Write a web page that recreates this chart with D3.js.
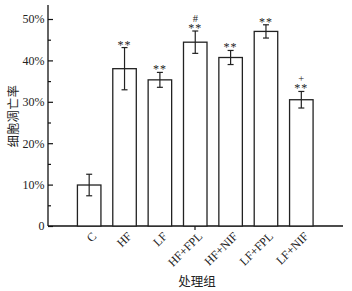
<!DOCTYPE html>
<html><head><meta charset="utf-8">
<script src="https://cdn.jsdelivr.net/npm/d3@7"></script>
<style>body{margin:0;background:#fff}svg{display:block}</style>
</head><body>
<svg id="c" width="352" height="291"></svg>
<script>
const categories = ["C","HF","LF","HF+FPL","HF+NIF","LF+FPL","LF+NIF"];
const values = [9.9, 38.0, 35.3, 44.4, 40.7, 47.0, 30.5];
const errors = [2.6, 5.1, 1.8, 2.7, 1.7, 1.6, 2.0];
const marks = ["", "**", "**", "**", "**", "**", "**"];
const marks2 = ["", "", "", "#", "", "", "+"];
const yTicks = [0,10,20,30,40,50];
const yMinor = [5,15,25,35,45];
const yTitle = "细胞凋亡率";
const xTitle = "处理组";

const svg = d3.select("#c");
const serif = "'Liberation Serif','DejaVu Serif',serif";
const cjk = "'Noto Sans CJK SC',sans-serif";
const y = d3.scaleLinear().domain([0,50]).range([226,19]);
const x = d3.scaleBand().domain(categories).range([71.5,319]).paddingInner(0.335).paddingOuter(0.1675);
const axX = 48;

// y axis
const yAxis = d3.axisRight(y).tickValues(yTicks).tickSize(5).tickFormat(d => d===0 ? "0" : d+"%");
const ga = svg.append("g").attr("transform",`translate(${axX},0)`).call(yAxis);
ga.select(".domain").remove();
ga.selectAll("line").attr("stroke","#111").attr("stroke-width",1.2);
ga.selectAll("text").attr("x",-3.5).attr("text-anchor","end").attr("font-family",serif).attr("font-size",12).attr("fill","#222");
const gm = svg.append("g").attr("transform",`translate(${axX},0)`).call(d3.axisRight(y).tickValues(yMinor).tickSize(3).tickFormat(""));
gm.select(".domain").remove();
gm.selectAll("line").attr("stroke","#111").attr("stroke-width",1.2);
svg.append("line").attr("x1",axX).attr("x2",axX).attr("y1",5).attr("y2",y(0)).attr("stroke","#111").attr("stroke-width",1.3);
// x axis
svg.append("line").attr("x1",axX).attr("x2",343).attr("y1",y(0)).attr("y2",y(0)).attr("stroke","#111").attr("stroke-width",1.3);
svg.append("line").attr("x1",195).attr("x2",195).attr("y1",y(0)).attr("y2",y(0)+4).attr("stroke","#111").attr("stroke-width",1.2);

// bars
svg.append("g").selectAll("rect").data(categories).join("rect")
  .attr("x",d=>x(d)).attr("width",x.bandwidth())
  .attr("y",(d,i)=>y(values[i])).attr("height",(d,i)=>y(0)-y(values[i]))
  .attr("fill","#fff").attr("stroke","#222").attr("stroke-width",1.3);
// error bars
const eg = svg.append("g").attr("stroke","#222").attr("stroke-width",1.2);
categories.forEach((c,i)=>{
  const cx = x(c)+x.bandwidth()/2;
  const t = y(values[i]+errors[i]), b = y(values[i]-errors[i]);
  eg.append("line").attr("x1",cx).attr("x2",cx).attr("y1",t).attr("y2",b);
  eg.append("line").attr("x1",cx-3).attr("x2",cx+3).attr("y1",t).attr("y2",t);
  eg.append("line").attr("x1",cx-3).attr("x2",cx+3).attr("y1",b).attr("y2",b);
  if (marks[i]) svg.append("text").attr("x",cx).attr("y",t+1).attr("text-anchor","middle")
    .attr("font-family",serif).attr("font-size",12).attr("letter-spacing",1).attr("fill","#222").text(marks[i]);
  if (marks2[i]) svg.append("text").attr("x",cx).attr("y",t-9).attr("text-anchor","middle")
    .attr("font-family",serif).attr("font-size",10.5).attr("fill","#222").text(marks2[i]);
});
// x labels (rotated -45°)
categories.forEach(c=>{
  const cx = x(c)+x.bandwidth()/2;
  svg.append("text").attr("transform",`translate(${cx+5},234) rotate(-45)`)
    .attr("text-anchor","end").attr("dy","0.35em")
    .attr("font-family",serif).attr("font-size",12).attr("fill","#222").text(c);
});
// titles
svg.append("text").attr("transform","translate(14,116) rotate(-90)").attr("text-anchor","middle")
  .attr("dy","0.35em").attr("font-family",cjk).attr("font-size",12).attr("letter-spacing",0.5).attr("fill","#222").text(yTitle);
svg.append("text").attr("x",197).attr("y",282).attr("text-anchor","middle").attr("dy","0.35em")
  .attr("font-family",cjk).attr("font-size",12.5).attr("fill","#222").text(xTitle);
</script>
</body></html>
